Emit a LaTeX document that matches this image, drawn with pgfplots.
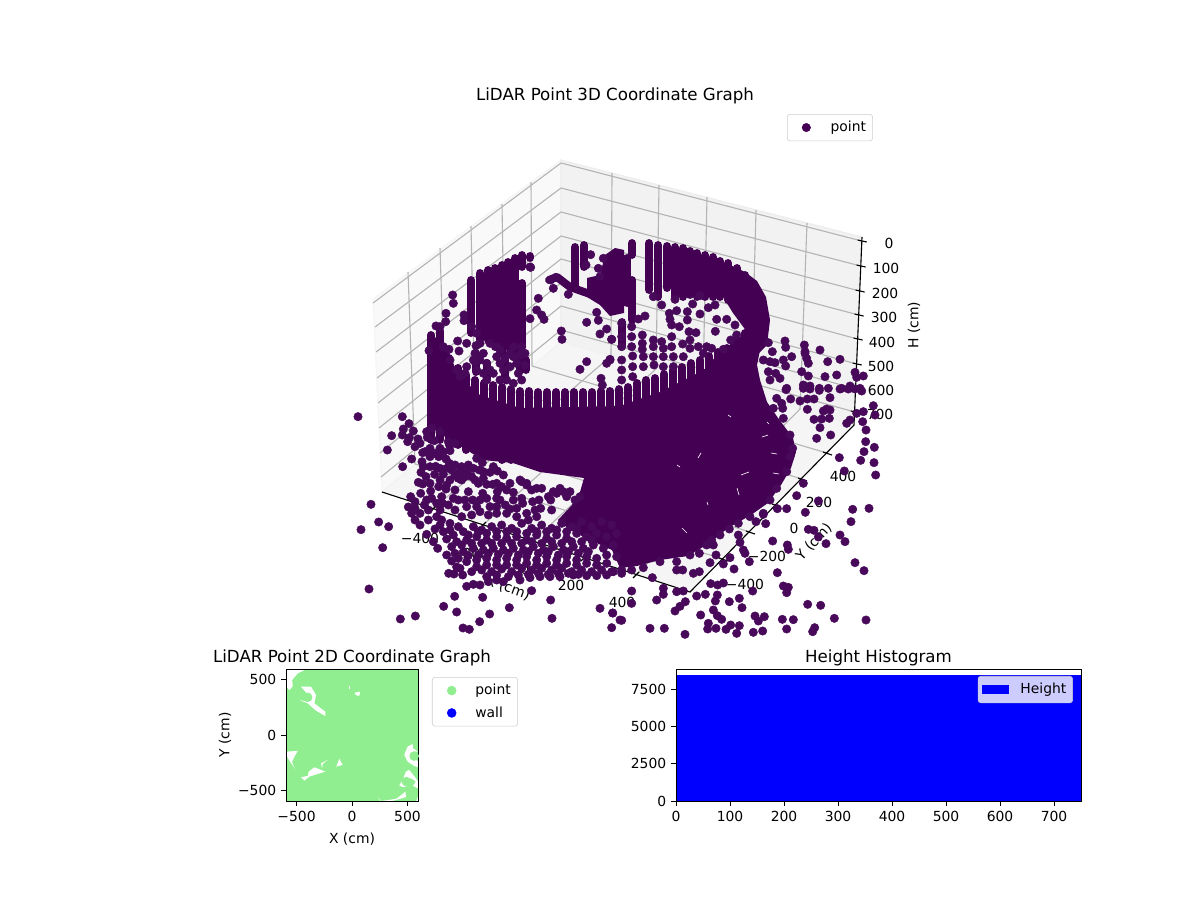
\documentclass[border=0pt]{standalone}
\usepackage{pgfplots}
\pgfplotsset{compat=1.18}
\usepackage{fontspec}
\setmainfont{DejaVu Sans}
\definecolor{pt}{HTML}{440154}
\definecolor{pts}{HTML}{48095A}
\definecolor{gridc}{HTML}{B4B4B4}
\definecolor{lg}{HTML}{90EE90}
\definecolor{legc}{HTML}{CCCCCC}
\newcommand{\tenpt}{\fontsize{10}{12}\selectfont}
\newcommand{\twelvept}{\fontsize{12}{14.4}\selectfont}
\pgfplotsset{
  dots/.style={only marks,mark=*,mark size=3.05pt,mark options={fill=pts,draw=pts,line width=0.3pt},forget plot},
  stroke/.style={no markers,draw=pt,line width=5.7pt,line cap=round,line join=round,forget plot},
  blob/.style={no markers,fill=pt,draw=none,forget plot},
  grl/.style={no markers,draw=gridc,line width=0.8pt,forget plot},
  axl/.style={no markers,draw=black,line width=0.8pt,forget plot},
  plain ticks/.style={tick label style={font=\tenpt},label style={font=\tenpt},
    /pgf/number format/assume math mode=true,/pgf/number format/1000 sep={},
    scaled ticks=false,tick align=outside,major tick length=3.5pt,
    tick style={black,line width=0.7pt},axis line style={line width=0.7pt},
    xtick pos=bottom,ytick pos=left,scale only axis},
}
\begin{document}
\begin{tikzpicture}
\path[use as bounding box] (0,0) rectangle (864pt,648pt);
% ---------- panes, grid, axis lines, labels of the 3D panel (projected, px)
\begin{axis}[at={(0,0)},anchor=south west,scale only axis,width=864pt,height=648pt,
  xmin=0,xmax=1200,ymin=0,ymax=900,y dir=reverse,hide axis,clip=false,unbounded coords=jump]
\addplot[no markers,fill=black!2.5,draw=black!4,line width=0.8pt,forget plot] coordinates {(373,299)(561,160)(561,342)(382,492)} --cycle;
\addplot[no markers,fill=black!5,draw=black!7,line width=0.8pt,forget plot] coordinates {(561,160)(862,237)(854,425)(561,342)} --cycle;
\addplot[no markers,fill=black!3.75,draw=black!5,line width=0.8pt,forget plot] coordinates {(382,492)(561,342)(854,425)(690,592)} --cycle;
% z gridlines
\addplot[grl] coordinates {(373,303)(561,163)(861.7,241)(nan,nan)(375,327)(561,188)(860.6,266)(nan,nan)(376,352)(561,212)(859.6,291)(nan,nan)(377,378)(561,236)(858.6,315)(nan,nan)(378,403)(561,259)(857.6,339)(nan,nan)(379,428)(561,283)(856.7,364)(nan,nan)(380,453)(561,306)(855.7,389)(nan,nan)(381,477)(561,330)(854.8,412)};
% wall verticals
\addplot[grl] coordinates {(408,272)(415,464)(nan,nan)(440,248)(446,438)(nan,nan)(471,226)(475,414)(nan,nan)(502,204)(505,389)(nan,nan)(531,182)(532,366)(nan,nan)(612,173)(611,356)(nan,nan)(659,185)(656,369)(nan,nan)(707,197)(703,382)(nan,nan)(756,210)(751,396)(nan,nan)(807,223)(800,409)};
% floor grid
\addplot[grl] coordinates {(611,356)(433,509)(nan,nan)(656,369)(483,525)(nan,nan)(703,382)(533,541)(nan,nan)(751,396)(584,558)(nan,nan)(800,409)(636,575)(nan,nan)(415,464)(723,559)(nan,nan)(446,438)(750,532)(nan,nan)(475,414)(776,505)(nan,nan)(505,389)(802,479)(nan,nan)(532,366)(827,453)};
% axis lines and ticks
\addplot[axl] coordinates {(382,492)(690,592)(854,425)(862,237)};
\addplot[axl] coordinates {(857.7,240)(866.7,242)(nan,nan)(856.6,265)(865.6,267)(nan,nan)(855.6,290)(864.6,292)(nan,nan)(854.6,314)(863.6,316)(nan,nan)(853.6,338)(862.6,340)(nan,nan)(852.7,363)(861.7,365)(nan,nan)(851.7,388)(860.7,390)(nan,nan)(850.8,411)(859.8,413)(nan,nan)(430,512)(436,506)(nan,nan)(480,528)(486,522)(nan,nan)(530,544)(536,538)(nan,nan)(581,561)(587,555)(nan,nan)(633,578)(639,572)(nan,nan)(719,558)(728,561)(nan,nan)(746,531)(755,534)(nan,nan)(772,504)(781,507)(nan,nan)(798,478)(807,481)(nan,nan)(823,452)(832,455)};
\node[font=\twelvept] at (axis cs:615,95.5) {LiDAR Point 3D Coordinate Graph};
\node[font=\tenpt] at (axis cs:889,243) {0};
\node[font=\tenpt] at (axis cs:886,268) {100};
\node[font=\tenpt] at (axis cs:885,293) {200};
\node[font=\tenpt] at (axis cs:884,317) {300};
\node[font=\tenpt] at (axis cs:882,342) {400};
\node[font=\tenpt] at (axis cs:881,366) {500};
\node[font=\tenpt] at (axis cs:881,390) {600};
\node[font=\tenpt] at (axis cs:880,414) {700};
\node[font=\tenpt,rotate=90] at (axis cs:914,325) {H (cm)};
\node[font=\tenpt] at (axis cs:420,538) {−400};
\node[font=\tenpt] at (axis cs:470,553) {−200};
\node[font=\tenpt] at (axis cs:525,569) {0};
\node[font=\tenpt] at (axis cs:571,585) {200};
\node[font=\tenpt] at (axis cs:622,602) {400};
\node[font=\tenpt,rotate=-20] at (axis cs:508,588) {X (cm)};
\node[font=\tenpt] at (axis cs:745,584) {−400};
\node[font=\tenpt] at (axis cs:767,556) {−200};
\node[font=\tenpt] at (axis cs:794,528) {0};
\node[font=\tenpt] at (axis cs:819,502) {200};
\node[font=\tenpt] at (axis cs:843,476) {400};
\node[font=\tenpt,rotate=47] at (axis cs:814,542) {Y (cm)};
\end{axis}
% ---------- projected LiDAR points (clipped to the 3D axes box)
\begin{axis}[at={(253.44pt,190.08pt)},anchor=south west,scale only axis,width=378.72pt,height=380.16pt,
  xmin=352,xmax=878,ymin=108,ymax=636,y dir=reverse,hide axis,clip=true,unbounded coords=jump,
  legend image code/.code={\path[draw=none,fill=none] (0pt,-3pt) rectangle (26.5pt,3pt);\draw[#1,mark repeat=2,mark phase=2] plot coordinates {(1pt,0pt)(11pt,0pt)(21pt,0pt)};},
  legend style={at={(0.827,0.9886)},anchor=north west,draw=legc,rounded corners=2pt,font=\tenpt,inner xsep=2.7pt,inner ysep=3pt}]
\addplot[only marks,mark=*,mark size=3.05pt,mark options={fill=pt,draw=pt,line width=0.3pt}] coordinates {(530,267)};
\addlegendentry{point}
\addplot[blob] coordinates {(428,345)(438,335)(448,350)(458,375)(480,395)(520,408)(620,406)(660,392)(700,372)(735,352)(750,340)(760,350)(757,365)(760,380)(767,402)(778,418)(793,438)(796,452)(791,468)(781,485)(768,503)(751,515)(728,528)(708,544)(688,556)(660,560)(637,566)(620,568)(612,550)(590,540)(570,530)(558,520)(572,505)(580,492)(584,478)(540,472)(513,463)(483,460)(447,438)(427,425)} --cycle;
\addplot[blob] coordinates {(728,264)(745,272)(757,281)(766,297)(770,320)(767,345)(752,360)(720,368)(700,374)(720,352)(747,332)(733,313)(725,300)} --cycle;
\addplot[blob] coordinates {(587,278)(600,275)(605,255)(615,248)(624,250)(624,313)(610,316)(600,305)(587,297)} --cycle;
% front wall columns
\addplot[stroke] coordinates {(431,335)(431,440)(nan,nan)(440,331)(440,440)(nan,nan)(449,358)(449,445)(nan,nan)(458,368)(458,445)(nan,nan)(466,375)(466,450)(nan,nan)(475,380)(475,450)(nan,nan)(484,383)(484,455)(nan,nan)(493,385)(493,455)(nan,nan)(502,387)(502,460)(nan,nan)(511,389)(511,460)(nan,nan)(520,391)(520,460)(nan,nan)(529,391)(529,460)(nan,nan)(538,392)(538,460)(nan,nan)(547,392)(547,460)(nan,nan)(556,392)(556,460)(nan,nan)(565,392)(565,460)(nan,nan)(574,392)(574,460)(nan,nan)(583,392)(583,460)(nan,nan)(592,392)(592,460)(nan,nan)(601,391)(601,460)(nan,nan)(610,391)(610,460)(nan,nan)(619,389)(619,460)(nan,nan)(628,387)(628,460)(nan,nan)(637,383)(637,460)(nan,nan)(646,380)(646,460)(nan,nan)(655,378)(655,460)(nan,nan)(664,374)(664,460)(nan,nan)(673,370)(673,460)(nan,nan)(682,367)(682,460)(nan,nan)(691,363)(691,460)(nan,nan)(700,360)(700,460)(nan,nan)(709,356)(709,460)(nan,nan)(718,352)(718,460)(nan,nan)(727,348)(727,460)(nan,nan)(736,340)(736,460)(nan,nan)(745,333)(745,460)};
% rear wall columns, right and left, and centre
\addplot[stroke] coordinates {(649,243)(649,290)(nan,nan)(658,245)(658,297)(nan,nan)(667,246)(667,288)(nan,nan)(675,247)(675,297)(nan,nan)(683,248)(683,297)(nan,nan)(690,251)(690,295)(nan,nan)(697,253)(697,297)(nan,nan)(705,255)(705,297)(nan,nan)(713,257)(713,297)(nan,nan)(720,261)(720,297)(nan,nan)(728,263)(728,300)(nan,nan)(737,268)(737,305)(nan,nan)(745,275)(745,312)
(nan,nan)(471,280)(471,333)(nan,nan)(480,273)(480,340)(nan,nan)(488,270)(488,340)(nan,nan)(495,268)(495,347)(nan,nan)(502,265)(502,353)(nan,nan)(508,262)(508,347)(nan,nan)(515,258)(515,357)(nan,nan)(522,255)(522,267)(nan,nan)(522,283)(522,347)(nan,nan)(530,256)(530,258)
(nan,nan)(575,247)(575,287)(nan,nan)(584,245)(584,267)(nan,nan)(549,280)(557,277)(570,287)(587,293)(620,303)
(nan,nan)(615,253)(615,307)(nan,nan)(627,258)(627,303)(nan,nan)(632,243)(632,255)(nan,nan)(632,280)(632,320)(nan,nan)(622,322)(622,345)
(nan,nan)(476,353)(476,372)(nan,nan)(487,363)(487,378)(nan,nan)(505,357)(505,380)(nan,nan)(520,353)(520,370)(nan,nan)(526,360)(526,370)};
% white gaps between points inside the dense part
\addplot[no markers,draw=white,line width=0.45pt,forget plot] coordinates {(762,437)(768,435)(nan,nan)(771,453)(777,454)(nan,nan)(773,473)(779,474)(nan,nan)(741,475)(749,472)(nan,nan)(737,488)(739,495)(nan,nan)(682,528)(687,533)(nan,nan)(707,502)(708,505)(nan,nan)(728,415)(731,417)(nan,nan)(767,422)(769,424)(nan,nan)(677,465)(680,467)(nan,nan)(698,458)(701,453)};
% upper-left crop (offset 340,140, 3x)
\addplot[dots] table[x expr=\thisrowno{0}/3+340,y expr=\thisrowno{1}/3+140,row sep=\\,header=false] {
338 465\\340 490\\318 520\\317 545\\300 560\\288 558\\372 525\\372 542\\353 603\\357 633\\267 632\\327 628\\408 617\\572 382\\570 536\\595 475\\590 510\\605 525\\612 538\\740 547\\775 541\\780 582\\800 567\\815 598\\664 573\\666 598\\740 665\\720 688\\810 658\\800 670\\783 715\\787 735\\752 344\\738 375\\685 463\\770 517\\632 420\\648 412\\640 445\\790 355\\775 385\\780 410\\395 560\\410 580\\430 640\\470 620\\470 650\\520 620\\520 650\\555 640\\555 675\\535 700\\520 730\\490 690\\460 700\\430 700\\400 660\\380 680\\350 690\\360 710\\330 660\\310 620\\405 640\\405 665\\440 670\\495 655\\540 645\\500 720\\380 610\\420 610\\450 610\\480 630\\510 640\\545 620\\420 660\\450 690\\480 670\\510 680\\530 670\\480 720\\440 720\\410 690\\375 700\\545 720\\
};
% upper-right crop (offset 610,140)
\addplot[dots] table[x expr=\thisrowno{0}/3+610,y expr=\thisrowno{1}/3+140,row sep=\\,header=false] {
105 528\\85 537\\130 470\\155 495\\195 478\\248 492\\270 467\\295 503\\315 495\\178 520\\200 512\\232 515\\270 522\\180 538\\185 555\\208 560\\232 540\\320 538\\350 538\\375 555\\380 585\\362 600\\316 574\\237 575\\258 578\\97 585\\97 610\\97 628\\130 600\\155 605\\185 590\\240 600\\218 612\\185 620\\240 625\\130 620\\160 625\\190 650\\220 650\\265 620\\290 620\\305 625\\340 628\\280 640\\65 560\\65 590\\65 620\\35 550\\35 590\\35 620\\68 648\\100 650\\130 650\\160 650\\35 660\\35 690\\68 680\\100 680\\132 675\\160 680\\190 680\\0 660\\5 598\\35 720\\68 710\\475 608\\487 635\\525 603\\527 622\\583 615\\585 635\\630 630\\545 650\\480 665\\520 660\\527 678\\590 655\\595 670\\585 640\\653 665\\690 658\\460 660\\495 668\\475 695\\497 700\\575 695\\595 708\\645 710\\680 705\\735 697\\760 708\\740 712\\530 745\\628 745\\580 735\\600 738\\695 745\\720 738\\750 745\\480 720\\510 715\\
};
% lower-left crop (offset 340,385)
\addplot[dots] table[x expr=\thisrowno{0}/3+340,y expr=\thisrowno{1}/3+385,row sep=\\,header=false] {
54 95\\187 95\\155 152\\142 195\\188 245\\215 222\\93 358\\116 411\\146 425\\63 434\\128 488\\87 612\\344 634\\428 637\\311 664\\350 681\\226 693\\181 702\\449 687\\419 710\\508 668\\632 645\\636 700\\780 670\\818 684\\369 729\\388 733\\575 617\\815 728\\840 705\\22 272\\
207 116\\190 132\\220 138\\187 150\\208 158\\234 162\\203 170\\225 185\\248 203\\262 157\\283 167\\270 190\\300 190\\296 215\\318 222\\330 197\\328 235\\410 220\\427 233\\246 230\\270 245\\287 244\\243 262\\258 275\\284 268\\310 268\\335 255\\360 258\\380 262\\400 250\\418 255\\450 262\\472 258\\490 270\\235 292\\248 297\\272 318\\296 305\\320 300\\318 312\\355 280\\365 285\\395 275\\345 315\\385 320\\415 295\\440 298\\458 298\\485 305\\500 315\\520 322\\428 325\\472 320\\212 335\\242 325\\275 340\\305 335\\308 355\\340 340\\355 345\\398 345\\253 360\\205 366\\345 375\\450 365\\496 360\\510 372\\545 340\\548 355\\578 350\\597 345\\632 345\\650 325\\670 320\\680 335\\705 345\\585 375\\602 370\\635 375\\560 295\\545 290\\590 310\\640 320\\
215 385\\225 405\\240 420\\265 405\\290 395\\305 405\\330 415\\365 395\\395 390\\420 380\\445 390\\470 385\\500 385\\530 395\\565 405\\
260 448\\285 432\\310 440\\340 450\\370 440\\400 425\\425 435\\455 425\\485 420\\515 430\\545 415\\575 430\\605 420\\635 430\\665 415\\695 425\\725 410\\755 425\\785 410\\815 420\\
280 470\\293 490\\320 462\\350 470\\380 465\\410 455\\440 465\\470 455\\500 460\\530 455\\560 465\\590 450\\620 460\\650 450\\680 460\\710 445\\740 455\\770 445\\800 455\\830 445\\
320 510\\345 505\\370 500\\400 490\\430 495\\460 490\\490 495\\520 490\\550 495\\580 485\\610 495\\640 485\\670 495\\700 485\\730 490\\760 480\\790 490\\820 480\\
335 528\\350 546\\380 530\\410 525\\440 520\\470 525\\500 520\\530 525\\560 515\\590 525\\620 515\\650 525\\680 515\\710 525\\740 515\\770 520\\800 510\\830 515\\
326 565\\342 567\\368 570\\395 560\\425 555\\455 560\\485 552\\515 560\\545 550\\575 555\\605 550\\635 555\\665 550\\695 560\\725 555\\755 560\\785 555\\815 560\\845 555\\
380 604\\400 598\\420 600\\445 590\\470 585\\490 590\\540 585\\570 578\\600 575\\630 575\\660 575\\700 570\\740 572\\770 572\\800 570\\
300 420\\330 435\\355 425\\385 450\\415 440\\440 445\\470 440\\500 440\\530 440\\560 445\\590 440\\620 440\\650 435\\680 440\\710 430\\
335 485\\365 480\\395 475\\425 475\\455 475\\485 475\\515 475\\545 475\\575 470\\605 475\\635 470\\665 475\\695 470\\725 470\\755 465\\
355 520\\385 512\\415 510\\445 505\\475 508\\505 505\\535 510\\565 500\\595 505\\625 500\\655 510\\685 500\\715 505\\745 500\\
360 550\\410 545\\440 540\\470 540\\500 540\\530 540\\560 535\\590 540\\620 535\\650 540\\680 535\\710 540\\740 535\\770 540\\800 535\\
440 575\\470 570\\505 575\\535 570\\565 568\\595 565\\625 568\\655 565\\685 565\\715 568\\
260 140\\275 130\\300 140\\325 170\\345 175\\240 175\\255 200\\270 215\\285 205\\310 200\\330 180\\250 245\\300 250\\320 250\\345 240\\365 245\\385 240\\430 260\\460 245\\
345 270\\375 275\\330 285\\300 285\\270 295\\405 285\\430 280\\470 295\\510 295\\540 285\\560 300\\575 315\\605 310\\625 335\\660 310\\690 320\\720 335\\
225 350\\260 345\\290 355\\325 360\\375 345\\420 345\\440 340\\470 340\\520 345\\480 345\\225 370\\240 385\\265 375\\300 375\\380 365\\410 365\\470 365\\530 370\\560 385\\590 395\\
};
% lower-right crop (offset 610,385)
\addplot[dots] table[x expr=\thisrowno{0}/3+610,y expr=\thisrowno{1}/3+385,row sep=\\,header=false] {
528 14\\580 10\\600 12\\628 16\\655 10\\690 12\\715 12\\735 12\\755 18\\500 40\\515 55\\518 70\\542 42\\570 48\\592 42\\612 42\\660 38\\592 73\\650 72\\660 75\\640 78\\790 62\\760 80\\740 85\\795 90\\815 100\\612 103\\635 102\\658 100\\630 128\\662 150\\620 160\\720 105\\710 115\\758 110\\768 135\\767 170\\793 187\\762 200\\752 226\\792 233\\688 218\\703 258\\797 270\\580 295\\560 332\\625 348\\586 382\\502 371\\530 371\\728 373\\777 370\\723 410\\467 416\\438 410\\460 388\\595 433\\612 436\\625 456\\648 476\\690 450\\705 470\\488 468\\532 480\\535 493\\805 483\\390 472\\400 495\\405 505\\418 530\\360 518\\372 552\\502 563\\735 533\\762 557\\302 596\\323 600\\340 594\\428 618\\520 603\\535 607\\530 623\\593 658\\632 661\\260 633\\286 628\\322 630\\316 648\\358 650\\388 640\\396 668\\272 690\\310 675\\322 692\\335 703\\435 693\\445 708\\463 695\\517 703\\673 700\\768 705\\550 704\\120 730\\163 730\\295 715\\293 732\\318 730\\348 733\\362 720\\388 722\\430 742\\458 738\\530 732\\608 740\\614 728\\225 748\\380 745\\35 706\\8 684\\65 618\\65 655\\140 645\\160 628\\160 610\\127 578\\200 620\\220 618\\226 650\\210 664\\195 678\\200 555\\218 555\\250 565\\268 560\\300 533\\318 510\\340 537\\268 505\\240 510\\330 450\\305 465\\310 480\\358 432\\385 450\\
540 150\\548 190\\530 260\\500 310\\480 345\\460 385\\420 395\\385 415\\290 480\\200 530\\150 530\\100 548\\10 560\\35 565\\65 555\\520 100\\490 70\\540 215\\
};
\end{axis}
% ---------- 2D panel
\begin{axis}[at={(205.92pt,71.28pt)},anchor=south west,plain ticks,width=95.04pt,height=95.04pt,
  xmin=-595,xmax=595,ymin=-595,ymax=595,xtick={-500,0,500},ytick={-500,0,500},
  xticklabels={−500,0,500},yticklabels={−500,0,500},
  xlabel={X (cm)},ylabel={Y (cm)},xlabel shift=1.5pt,ylabel shift=-2pt,
  title={LiDAR Point 2D Coordinate Graph},title style={font=\twelvept,yshift=-7pt},
  axis on top,
  legend image code/.code={\path[draw=none,fill=none] (0pt,-3pt) rectangle (26pt,3pt);\draw[#1,mark repeat=2,mark phase=2] plot coordinates {(1pt,0pt)(11pt,0pt)(21pt,0pt)};},
  legend style={at={(1.106,0.939)},anchor=north west,draw=legc,rounded corners=2pt,font=\tenpt,inner xsep=3pt,inner ysep=3pt,row sep=3pt},legend cell align=left]
\addplot[no markers,fill=lg,draw=none,forget plot] coordinates {(-595,-595)(595,-595)(595,595)(-595,595)} --cycle;
\addplot[no markers,fill=white,draw=none,forget plot] coordinates {(-595,585)(-429,585)(-489,555)(-540,495)(-534,441)(-564,405)(-595,435)} --cycle;
\addplot[no markers,fill=white,draw=none,forget plot] coordinates {(-459,435)(-369,435)(-324,360)(-339,285)(-240,210)(-240,171)(-324,219)(-399,285)(-474,315)(-399,300)(-384,345)(-420,390)} --cycle;
\addplot[no markers,fill=white,draw=none,forget plot] coordinates {(21,381)(72,390)(66,351)(36,360)} --cycle;
\addplot[no markers,fill=white,draw=none,forget plot] coordinates {(-24,441)(-18,441)(-18,411)(-24,411)} --cycle;
\addplot[no markers,fill=white,draw=none,forget plot] coordinates {(-595,-150)(-489,-144)(-519,-195)(-540,-240)(-525,-285)(-510,-309)(-549,-255)(-595,-180)} --cycle;
\addplot[no markers,fill=white,draw=none,forget plot] coordinates {(-390,-330)(-339,-291)(-279,-315)(-240,-330)(-309,-351)(-384,-375)(-429,-411)(-459,-381)(-399,-369)} --cycle;
\addplot[no markers,fill=white,draw=none,forget plot] coordinates {(-279,-255)(-219,-225)(-264,-261)(-270,-300)} --cycle;
\addplot[no markers,fill=white,draw=none,forget plot] coordinates {(-144,-291)(-114,-216)(-84,-270)(-144,-285)} --cycle;
\addplot[no markers,fill=white,draw=none,forget plot] coordinates {(546,-81)(501,-105)(471,-180)(501,-240)(561,-279)(595,-291)(595,-240)(561,-210)(561,-150)(595,-150)(550,-120)} --cycle;
\addplot[no markers,fill=white,draw=none,forget plot] coordinates {(426,-456)(456,-405)(486,-330)(516,-315)(576,-390)(595,-420)(595,-480)(550,-460)(576,-420)(531,-390)(486,-420)(501,-460)(460,-470)} --cycle;
\addplot[no markers,fill=white,draw=none,forget plot] coordinates {(483,-510)(486,-560)(400,-585)(363,-595)(255,-595)(231,-555)(260,-595)(300,-590)(400,-575)} --cycle;
\addplot[no markers,fill=white,draw=none,forget plot] coordinates {(595,-555)(580,-595)(595,-595)} --cycle;
\addplot[only marks,mark=*,mark size=3.2pt,mark options={fill=lg,draw=lg}] coordinates {(-400,340)(-420,490)(490,-420)(560,-190)(240,-100)};
\addlegendentry{point}
\addlegendimage{only marks,mark=*,mark size=3.2pt,mark options={fill=blue,draw=blue}}
\addlegendentry{wall}
\end{axis}
% ---------- histogram
\begin{axis}[at={(486.72pt,71.28pt)},anchor=south west,plain ticks,width=291.6pt,height=95.04pt,
  xmin=0,xmax=750,ymin=0,ymax=8869,xtick={0,100,...,700},ytick={0,2500,5000,7500},
  title={Height Histogram},title style={font=\twelvept,yshift=-7pt},axis on top,
  legend image code/.code={\path[draw=none,fill=none] (0pt,-3.5pt) rectangle (26pt,3.5pt);\fill[blue,draw=none,fill opacity=1,sharp corners] (0pt,-3.5pt) rectangle (20pt,3.5pt);},
  legend style={at={(0.980,0.947)},anchor=north east,draw=legc,fill=white,fill opacity=0.8,text opacity=1,rounded corners=2pt,font=\tenpt,inner xsep=2.5pt,inner ysep=3pt}]
\addplot[ybar interval,fill=blue,draw=blue,line width=0.2pt] coordinates {(0,8447)(50,8447)(100,8447)(150,8447)(200,8447)(250,8447)(300,8447)(350,8447)(400,8447)(450,8447)(500,8447)(550,8447)(600,8447)(650,8447)(700,8447)(750,8447)};
\addlegendentry{Height}
\end{axis}
\end{tikzpicture}
\end{document}
